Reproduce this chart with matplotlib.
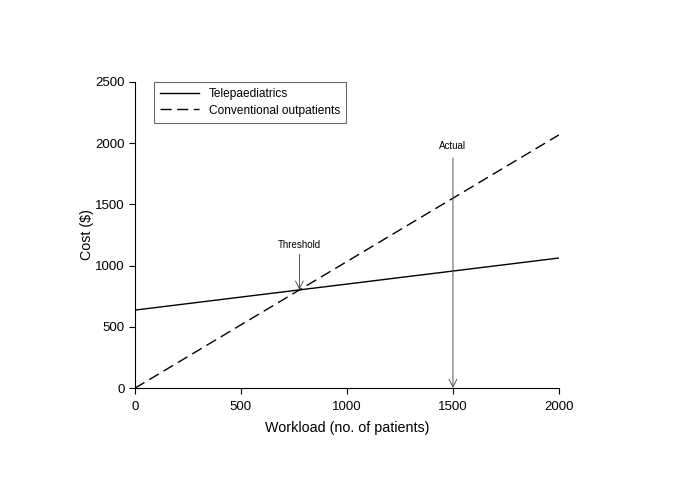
import numpy as np
import matplotlib.pyplot as plt

plt.rcParams['font.family'] = ['Liberation Sans', 'DejaVu Sans']

# workload (no. of patients)
workload = [0, 2000]
# cost ($)
tele_cost = [637, 1062]
conv_cost = [0, 2067]

threshold_x = 776
threshold_y = 802
actual_x = 1500
actual_top = 1935

fig = plt.figure(figsize=(6.85, 4.84), dpi=100)
ax = fig.add_axes([0.197, 0.198, 0.619, 0.633])

ax.plot(workload, tele_cost, 'k-', lw=1.0, label='Telepaediatrics')
ax.plot(workload, conv_cost, 'k--', lw=1.0, dashes=(8, 4), label='Conventional outpatients')

ax.annotate('Threshold', xy=(threshold_x, threshold_y), xytext=(threshold_x, threshold_y + 325),
            ha='center', va='bottom', fontsize=7,
            arrowprops=dict(arrowstyle='->', color='#555555', lw=0.7, mutation_scale=14,
                            shrinkA=1, shrinkB=0))
ax.annotate('Actual', xy=(actual_x, 0), xytext=(actual_x, actual_top),
            ha='center', va='bottom', fontsize=7,
            arrowprops=dict(arrowstyle='->', color='#555555', lw=0.7, mutation_scale=14,
                            shrinkA=3, shrinkB=0))

ax.set_xlim(0, 2000)
ax.set_ylim(0, 2500)
ax.set_xticks([0, 500, 1000, 1500, 2000])
ax.set_yticks([0, 500, 1000, 1500, 2000, 2500])
ax.spines['top'].set_visible(False)
ax.spines['right'].set_visible(False)
ax.tick_params(direction='out', length=4, labelsize=9.5)
ax.tick_params(axis='x', pad=5.5)
ax.set_xlabel('Workload (no. of patients)', fontsize=10.3, labelpad=5.5)
ax.set_ylabel('Cost ($)', fontsize=10.3, labelpad=1)

leg = ax.legend(loc='upper left', bbox_to_anchor=(0.045, 0.998), fontsize=8.6, fancybox=False,
                edgecolor='#444444', borderaxespad=0.0, handlelength=3.3, labelspacing=0.35,
                borderpad=0.5)
leg.get_frame().set_linewidth(0.8)

plt.savefig('out.png', dpi=100)
